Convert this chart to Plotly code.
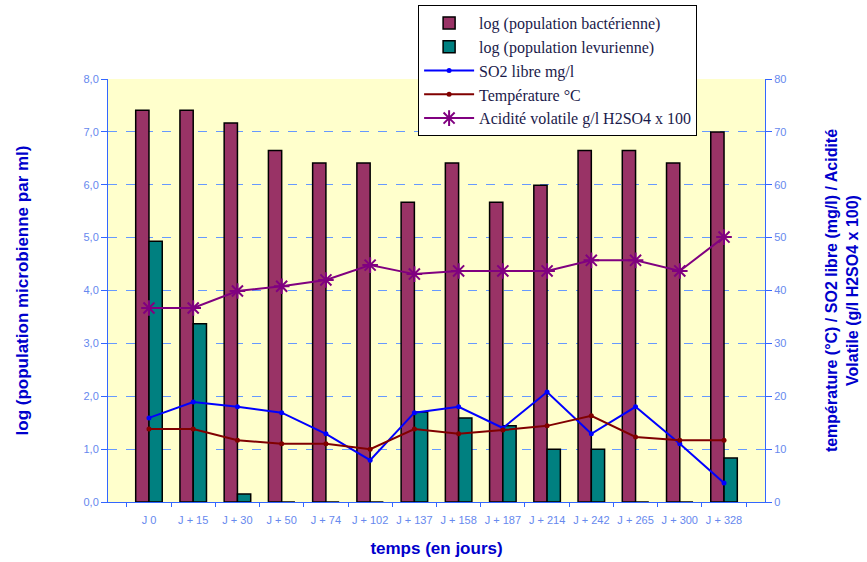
import plotly.graph_objects as go

jours = ["J 0", "J + 15", "J + 30", "J + 50", "J + 74", "J + 102", "J + 137",
         "J + 158", "J + 187", "J + 214", "J + 242", "J + 265", "J + 300", "J + 328"]
log_bact = [7.41, 7.41, 7.17, 6.65, 6.41, 6.41, 5.67, 6.41, 5.67, 5.99, 6.65, 6.65, 6.41, 7.0]
log_levure = [4.93, 3.37, 0.15, 0, 0, 0, 1.70, 1.59, 1.44, 1.0, 1.0, 0, 0, 0.83]
so2_libre = [15.9, 18.9, 18.0, 16.9, 12.9, 7.9, 16.9, 18.0, 14.0, 20.8, 12.9, 18.0, 11.0, 3.6]
temperature = [13.8, 13.8, 11.7, 11.0, 11.0, 10.0, 13.8, 12.9, 13.6, 14.4, 16.3, 12.3, 11.7, 11.7]
acidite = [36.7, 36.7, 39.9, 40.8, 42.0, 44.8, 43.1, 43.7, 43.7, 43.7, 45.7, 45.7, 43.7, 50.1]

tick_col = "#6688EE"
axis_col = "#3366FF"
title_col = "#0000CC"

fig = go.Figure()
fig.add_trace(go.Bar(x=jours, y=log_bact, name="log (population bactérienne)",
                     marker=dict(color="#993366", line=dict(color="black", width=1.5))))
fig.add_trace(go.Bar(x=jours, y=log_levure, name="log (population levurienne)",
                     marker=dict(color="#008080", line=dict(color="black", width=1.5))))
fig.add_trace(go.Scatter(x=jours, y=so2_libre, name="SO2 libre mg/l", yaxis="y2",
                         mode="lines+markers", line=dict(color="#0000FF", width=2),
                         marker=dict(size=5, color="#0000FF")))
fig.add_trace(go.Scatter(x=jours, y=temperature, name="Température °C", yaxis="y2",
                         mode="lines+markers", line=dict(color="#800000", width=2),
                         marker=dict(size=5, color="#800000")))
fig.add_trace(go.Scatter(x=jours, y=acidite, name="Acidité volatile g/l H2SO4 x 100", yaxis="y2",
                         mode="lines+markers", line=dict(color="#800080", width=2),
                         marker=dict(symbol="asterisk-open", size=13, color="#800080",
                                     line=dict(color="#800080", width=2))))

fig.update_layout(
    width=867, height=562,
    margin=dict(l=108, r=102, t=79, b=60, autoexpand=False),
    paper_bgcolor="white",
    plot_bgcolor="#FFFFCC",
    separators=", ",
    barmode="group",
    bargap=0.4,
    bargroupgap=0,
    font=dict(family="Liberation Sans, Arial", color=tick_col, size=11),
    xaxis=dict(
        type="category", automargin=False,
        showline=True, linecolor=axis_col, linewidth=1,
        ticks="outside", tickson="boundaries", ticklen=4, tickcolor=axis_col,
        tickfont=dict(size=11, color=tick_col), tickangle=0, ticklabelstandoff=8,
        title=dict(text="<b>temps (en jours)</b>", font=dict(size=17, color=title_col), standoff=16),
        showgrid=False,
    ),
    yaxis=dict(
        range=[0, 8], dtick=1, tickformat=".1f", automargin=False,
        showline=True, linecolor=axis_col, linewidth=1,
        ticks="outside", ticklen=6, tickcolor=axis_col,
        tickfont=dict(size=11, color=tick_col),
        showgrid=True, gridcolor="#6699FF", griddash="dash", gridwidth=1,
        zeroline=False,
        title=dict(text="<b>log (population microbienne par ml)</b>",
                   font=dict(size=17, color=title_col), standoff=50),
    ),
    yaxis2=dict(
        range=[0, 80], dtick=10, overlaying="y", side="right", automargin=False,
        showline=True, linecolor=axis_col, linewidth=1,
        ticks="outside", ticklen=6, tickcolor=axis_col,
        tickfont=dict(size=11, color=tick_col),
        showgrid=False, zeroline=False,
        title=dict(text="<b>température (°C) / SO2 libre (mg/l) / Acidité<br>Volatile (g/l H2SO4 x 100)</b>",
                   font=dict(size=16, color=title_col), standoff=40),
    ),
    legend=dict(
        x=0.472, y=1.175, xanchor="left", yanchor="top",
        bgcolor="white", bordercolor="black", borderwidth=1,
        font=dict(family="Liberation Serif", size=16, color="#1a1a4a"),
        tracegroupgap=0, itemsizing="trace", itemwidth=50,
    ),
)

fig.write_html("out.html")
